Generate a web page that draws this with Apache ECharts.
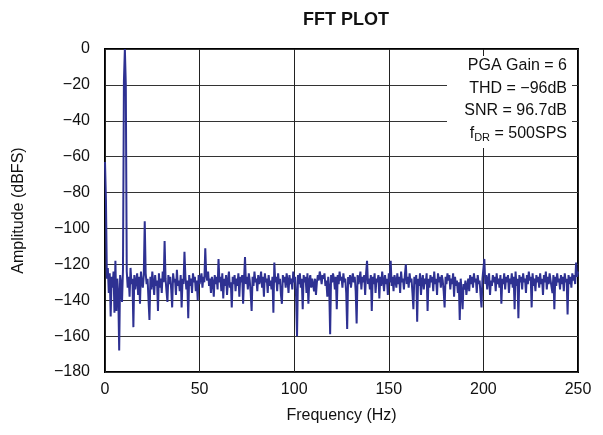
<!DOCTYPE html>
<html>
<head>
<meta charset="utf-8">
<script src="https://cdn.jsdelivr.net/npm/echarts@6/dist/echarts.min.js"></script>
<style>html,body{margin:0;padding:0;background:#fff;}#c{width:603px;height:435px;}</style>
</head>
<body>
<div id="c"></div>
<script>
// Frequency bins: 0 to 250 Hz, 0.5 Hz steps
const binStart = 0;
const binStep = 0.5;
// Amplitude (dBFS) per bin
const amplitude = [
-63,-84,-128,-122,-136,-125,-149,-127,-133,-124,-147,-118,-146,-128,-136,-168,-126,-131,-141,-123,
-18,0,-20,-124,-133,-127,-138,-122,-131,-128,-155,-126,-134,-129,-125,-137,-127,-142,-124,-130,
-133,-126,-96,-125,-131,-128,-140,-151,-127,-134,-124,-130,-137,-126,-132,-129,-146,-125,-133,-128,
-136,-124,-130,-107,-128,-135,-141,-126,-131,-127,-134,-144,-125,-130,-128,-137,-123,-132,-129,-135,
-126,-144,-128,-131,-113,-127,-134,-129,-150,-126,-132,-128,-136,-125,-130,-127,-135,-129,-140,-126,
-131,-128,-125,-133,-127,-130,-111,-126,-129,-124,-132,-128,-136,-127,-130,-138,-126,-131,-127,-134,
-117,-130,-127,-135,-125,-139,-128,-132,-126,-137,-129,-124,-133,-130,-144,-127,-131,-126,-135,-128,
-132,-125,-138,-127,-130,-126,-142,-128,-116,-131,-127,-134,-125,-129,-136,-146,-127,-132,-124,-130,
-128,-135,-126,-131,-129,-124,-133,-127,-138,-125,-130,-128,-136,-126,-132,-129,-134,-127,-147,-119,
-130,-127,-135,-125,-131,-128,-137,-142,-126,-130,-127,-133,-125,-129,-136,-126,-131,-128,-134,-124,
-130,-127,-138,-160,-126,-131,-125,-133,-128,-145,-126,-130,-127,-136,-125,-142,-129,-126,-133,-128,
-131,-135,-128,-137,-130,-126,-129,-124,-127,-131,-126,-128,-125,-132,-129,-138,-127,-133,-159,-126,
-130,-125,-128,-134,-127,-145,-126,-131,-124,-129,-127,-133,-125,-130,-128,-136,-156,-127,-131,-126,
-133,-128,-125,-130,-127,-135,-153,-126,-131,-128,-124,-134,-127,-130,-126,-137,-125,-118,-131,-128,
-134,-126,-146,-127,-131,-125,-136,-128,-130,-126,-139,-127,-132,-124,-129,-135,-126,-131,-128,-137,
-125,-130,-118,-132,-127,-135,-126,-129,-133,-125,-131,-127,-136,-124,-130,-128,-134,-126,-120,-131,
-127,-133,-125,-130,-128,-136,-145,-127,-131,-126,-152,-128,-132,-125,-137,-129,-126,-134,-128,-131,
-125,-146,-128,-133,-126,-130,-127,-135,-124,-131,-128,-137,-125,-130,-127,-133,-126,-129,-135,-144,
-127,-131,-125,-129,-126,-134,-128,-131,-125,-138,-127,-132,-129,-136,-130,-151,-128,-135,-145,-131,
-134,-129,-137,-132,-128,-135,-126,-131,-127,-133,-125,-130,-128,-136,-126,-131,-129,-137,-144,-128,
-127,-117,-131,-126,-134,-128,-125,-137,-129,-132,-126,-130,-127,-135,-125,-131,-128,-133,-126,-142,
-128,-131,-125,-134,-127,-130,-126,-136,-128,-131,-125,-133,-127,-145,-124,-132,-128,-150,-126,-130,
-127,-134,-125,-130,-128,-136,-126,-131,-124,-129,-127,-144,-125,-132,-128,-135,-126,-130,-127,-133,
-125,-131,-128,-137,-126,-130,-124,-134,-127,-131,-125,-129,-128,-136,-126,-145,-127,-132,-125,-130,
-128,-134,-126,-131,-127,-135,-125,-130,-128,-148,-126,-131,-127,-133,-125,-129,-126,-131,-119,-127,
-124
];
const xTicks = [0, 50, 100, 150, 200, 250];
const yTicks = [0, -20, -40, -60, -80, -100, -120, -140, -160, -180];
const notes = ['PGA Gain = 6', 'THD = \u221296dB', 'SNR = 96.7dB'];
const noteRate = { sub: 'DR', text: ' = 500SPS' };

const data = amplitude.map((v, i) => [binStart + i * binStep, v]);
const fmt = v => (v < 0 ? '\u2212' + Math.abs(v) : String(v));
const FONT = '"Liberation Sans", Arial, sans-serif';

const chart = echarts.init(document.getElementById('c'), null, { renderer: 'canvas' });

const noteGraphics = [{
  type: 'rect',
  left: 447,
  top: 56,
  z: 90,
  shape: { x: 0, y: 0, width: 125, height: 92 },
  style: { fill: '#fff' }
}];
notes.forEach((t, i) => noteGraphics.push({
  type: 'text',
  right: 36,
  top: 58 + i * 22.5,
  z: 100,
  style: {
    text: t,
    fill: '#111',
    font: '16px ' + FONT
  }
}));
noteGraphics.push({
  type: 'text',
  right: 36,
  top: 58 + 3 * 22.5,
  z: 100,
  style: {
    text: '{f|f}{s|' + noteRate.sub + '}{f|' + noteRate.text + '}',
    rich: {
      f: { fontSize: 16, fontFamily: FONT, fill: '#111', color: '#111' },
      s: { fontSize: 11, fontFamily: FONT, fill: '#111', color: '#111', padding: [8, 0, 0, 0] }
    }
  }
});

chart.setOption({
  animation: false,
  backgroundColor: '#fff',
  title: {
    text: 'FFT PLOT',
    left: 341,
    textAlign: 'center',
    top: 6,
    textStyle: { fontFamily: FONT, fontWeight: 'bold', fontSize: 18, color: '#111' }
  },
  grid: {
    left: 105, right: 25, top: 49, bottom: 63,
    show: true, borderColor: '#000', borderWidth: 2, backgroundColor: 'transparent'
  },
  xAxis: {
    type: 'value',
    min: xTicks[0], max: xTicks[xTicks.length - 1], interval: 50,
    name: 'Frequency (Hz)',
    nameLocation: 'middle',
    nameGap: 36,
    nameTextStyle: { fontFamily: FONT, fontSize: 16, color: '#111' },
    axisLine: { show: false },
    axisTick: { show: false },
    axisLabel: { margin: 10, fontFamily: FONT, fontSize: 16, color: '#111', formatter: fmt },
    splitLine: { show: true, lineStyle: { color: '#222', width: 1 } }
  },
  yAxis: {
    type: 'value',
    min: yTicks[yTicks.length - 1], max: yTicks[0], interval: 20,
    name: 'Amplitude (dBFS)',
    nameLocation: 'middle',
    nameGap: 78,
    nameTextStyle: { fontFamily: FONT, fontSize: 16, color: '#111' },
    axisLine: { show: false },
    axisTick: { show: false },
    axisLabel: { margin: 15, fontFamily: FONT, fontSize: 16, color: '#111', formatter: fmt },
    splitLine: { show: true, lineStyle: { color: '#333', width: 1 } }
  },
  series: [{
    type: 'line',
    data: data,
    showSymbol: false,
    symbol: 'none',
    lineStyle: { color: '#2e3192', width: 2 },
    z: 3
  }],
  graphic: noteGraphics
});
</script>
</body>
</html>
